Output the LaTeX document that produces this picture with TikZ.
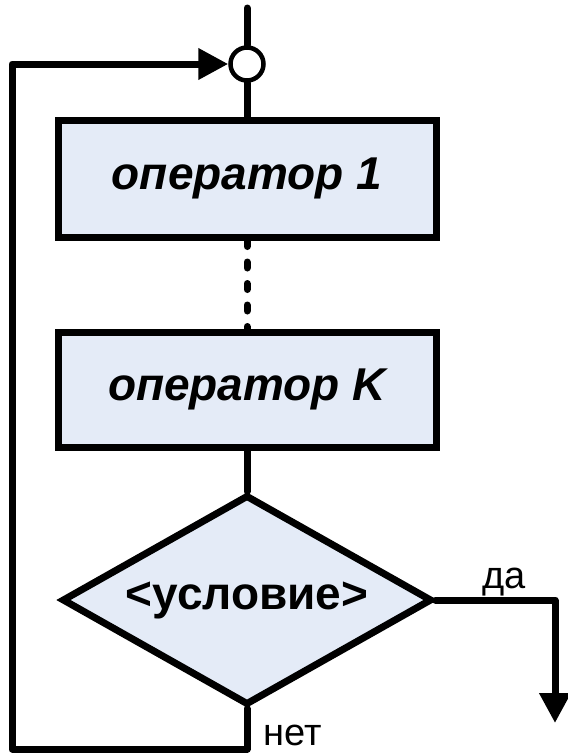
\documentclass[tikz,border=0pt]{standalone}
\usepackage{fontspec}
\setmainfont{Liberation Sans}
\usetikzlibrary{arrows.meta,shapes.geometric}
\definecolor{boxfill}{RGB}{228,235,247}
\tikzset{
  flow/.style={line width=7pt, line join=round, line cap=round},
  opbox/.style={draw, line width=7pt, fill=boxfill, rectangle, inner sep=0pt,
    minimum width=378pt, font=\fontsize{46}{46}\selectfont\bfseries\itshape},
  cond/.style={draw, line width=7pt, fill=boxfill, diamond, aspect=1.76, inner sep=0pt,
    minimum width=370pt, minimum height=210pt, font=\fontsize{46}{46}\selectfont\bfseries},
  joint/.style={draw, line width=4.5pt, fill=white, circle, minimum size=33pt, inner sep=0pt},
  lbl/.style={font=\fontsize{38}{38}\selectfont, anchor=base, inner sep=0pt},
  tip/.style={-{Triangle[length=30pt,width=30pt]}},
  dotline/.style={line width=7pt, line cap=round, dash pattern=on 6pt off 15.5pt}
}
\begin{document}
\begin{tikzpicture}[x=1pt,y=-1pt]
\useasboundingbox (0,0) rectangle (568,756);
\node[joint] (c) at (247,64) {};
\node[opbox, minimum height=117pt] (b1) at (247,178.5) {оператор 1};
\node[opbox, minimum height=115pt] (b2) at (247,389.5) {оператор K};
\node[cond] (d) at (247,600) {<условие>};
\coordinate (top) at (247,8);
\coordinate (yes) at (555,723);
\coordinate (bl) at (12,749);
\coordinate (tl) at (12,64);
\node[lbl] (da) at (504,588) {да};
\node[lbl] (net) at (293,745) {нет};
\draw[flow] (top) -- (c.north);
\draw[flow] (c.south) -- (b1.north);
\draw[dotline] (b1.south) -- (b2.north);
\draw[flow] (b2.south) -- (d.north);
\draw[flow, tip] (d.east) -| (yes);
\draw[flow, tip] (d.south) |- (bl) -- (tl) -- (c.west);
\end{tikzpicture}
\end{document}
